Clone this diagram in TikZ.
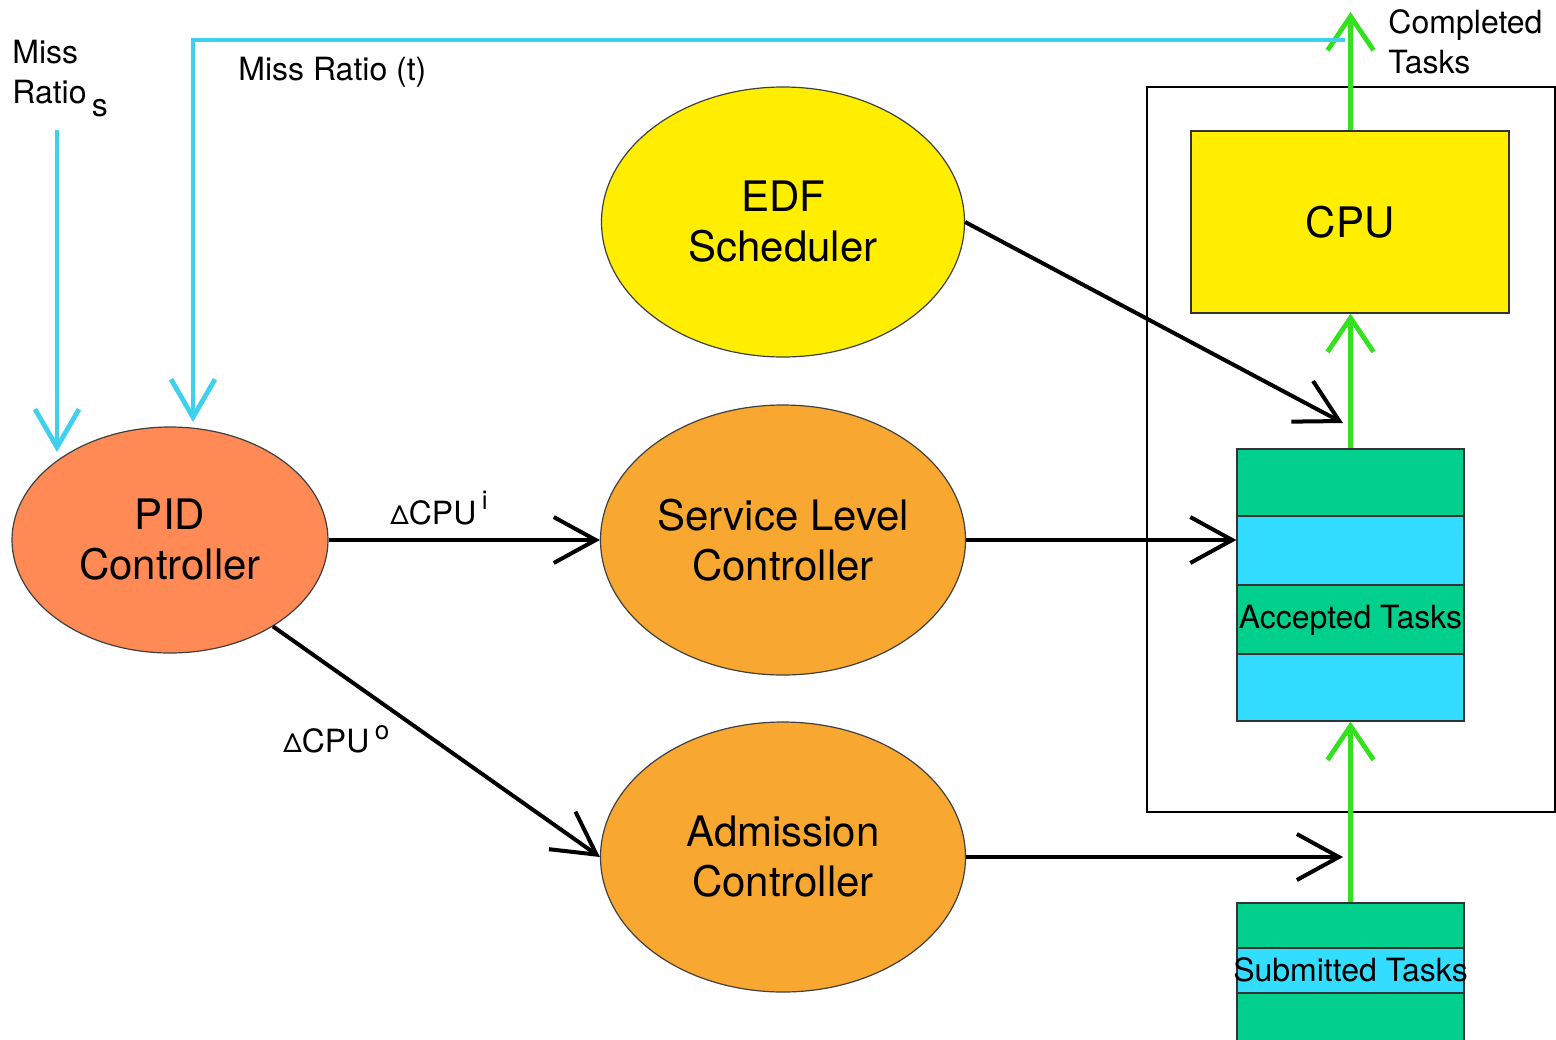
\documentclass[tikz,border=0pt]{standalone}
\usepackage{fontspec}
\setmainfont{TeX Gyre Heros}
\usetikzlibrary{shapes.geometric,arrows.meta,calc}

\definecolor{pidfill}{HTML}{FF8A55}
\definecolor{ctrlfill}{HTML}{F8A830}
\definecolor{yellowfill}{HTML}{FFEE00}
\definecolor{stripegreen}{HTML}{00D08C}
\definecolor{stripecyan}{HTML}{33DDFF}
\definecolor{feedback}{HTML}{3FD0EE}
\definecolor{taskflow}{HTML}{33E11E}

\begin{document}
\begin{tikzpicture}[x=0.5pt,y=-0.5pt,
  ctrl/.style={ellipse, draw=black!75, line width=0.6pt, align=center,
    inner sep=0pt, font=\fontsize{21}{25}\selectfont},
  boxnode/.style={rectangle, draw=black!80, line width=0.6pt, inner sep=0pt},
  tasklbl/.style={inner sep=0pt, font=\fontsize{16}{19}\selectfont},
  plainlbl/.style={inner sep=0pt, align=left, font=\fontsize{16}{20}\selectfont},
  blackarrow/.style={line width=2pt, black,
    -{Straight Barb[length=21pt,width=23pt]}},
  cyanarrow/.style={line width=2.4pt, feedback,
    -{Straight Barb[length=19pt,width=22pt]}},
  greenarrow/.style={line width=2.4pt, taskflow,
    -{Straight Barb[length=17pt,width=23pt]}},
]
\useasboundingbox (0,0) rectangle (1556,1039);
\clip (0,0) rectangle (1556,1039);

% outer frame around the processor and its queue
\node[rectangle, draw=black, line width=0.75pt, minimum width=204pt,
  minimum height=362.5pt, inner sep=0pt] (sys) at (1351,449.5) {};

% controllers and scheduler
\node[ctrl, fill=pidfill, minimum width=158pt, minimum height=113pt] (pid) at (170,540) {PID\\Controller};
\node[ctrl, fill=yellowfill, minimum width=181.5pt, minimum height=135pt] (edf) at (783,222) {EDF\\Scheduler};
\node[ctrl, fill=ctrlfill, minimum width=182.5pt, minimum height=135pt] (slc) at (783,540) {Service Level\\Controller};
\node[ctrl, fill=ctrlfill, minimum width=182.5pt, minimum height=135pt] (adm) at (783,857) {Admission\\Controller};

% CPU
\node[boxnode, fill=yellowfill, minimum width=159pt, minimum height=91pt,
  font=\fontsize{21}{25}\selectfont] (cpu) at (1350,222) {CPU};

% accepted task queue
\filldraw[fill=stripegreen, draw=black!80, line width=0.6pt] (1237,449) rectangle (1464,516);
\filldraw[fill=stripecyan,  draw=black!80, line width=0.6pt] (1237,516) rectangle (1464,585);
\filldraw[fill=stripegreen, draw=black!80, line width=0.6pt] (1237,585) rectangle (1464,654);
\filldraw[fill=stripecyan,  draw=black!80, line width=0.6pt] (1237,654) rectangle (1464,721);
\node[boxnode, minimum width=113.5pt, minimum height=136pt] (acc) at (1350.5,585) {};
\node[tasklbl] (acclbl) at (1350.5,620) {Accepted Tasks};

% submitted task queue
\filldraw[fill=stripegreen, draw=black!80, line width=0.6pt] (1237,903) rectangle (1464,948);
\filldraw[fill=stripecyan,  draw=black!80, line width=0.6pt] (1237,948) rectangle (1464,993);
\filldraw[fill=stripegreen, draw=black!80, line width=0.6pt] (1237,993) rectangle (1464,1045);
\node[boxnode, minimum width=113.5pt, minimum height=71pt] (sub) at (1350.5,974) {};
\node[tasklbl] (sublbl) at (1350.5,970) {Submitted Tasks};

% task flow
\coordinate (done) at (1350.5,12);
\draw[greenarrow] (sub.north) -- (acc.south);
\draw[greenarrow] (acc.north) -- (acc.north |- cpu.south);
\draw[greenarrow] (acc.north |- cpu.north) -- (done);

% feedback loop
\coordinate (mrt) at (1345,40);
\coordinate (pidin) at (193,422);
\draw[cyanarrow] (mrt) -| (pidin);
\coordinate (mrs) at (57,130);
\coordinate (pidref) at (57,452);
\draw[cyanarrow] (mrs) -- (pidref);

% control actions
\coordinate (edfin) at (1343,423);
\coordinate (admin) at (1343,857);
\draw[blackarrow] (pid.east) -- (slc.west);
\draw[blackarrow] (pid.-40) -- (adm.west);
\draw[blackarrow] (edf.east) -- (edfin);
\draw[blackarrow] (slc.east) -- (slc.east -| acc.west);
\draw[blackarrow] (adm.east) -- (admin);

% labels
\node[plainlbl, anchor=north west] (mrslbl) at (12,40) {Miss\\Ratio\,\raisebox{-0.4em}{s}};
\node[plainlbl, anchor=base west] (mrtlbl) at (238,80) {Miss Ratio (t)};
\node[plainlbl, anchor=north west] (donelbl) at (1388,9) {Completed\\Tasks};
\node[plainlbl, anchor=base west] (dcpui) at (390,524) {{\fontsize{13}{13}\selectfont Δ}CPU\,\raisebox{0.45em}{\fontsize{13}{13}\selectfont i}};
\node[plainlbl, anchor=base west] (dcpuo) at (283,752) {{\fontsize{13}{13}\selectfont Δ}CPU\,\raisebox{0.4em}{\fontsize{13}{13}\selectfont o}};
\end{tikzpicture}
\end{document}
